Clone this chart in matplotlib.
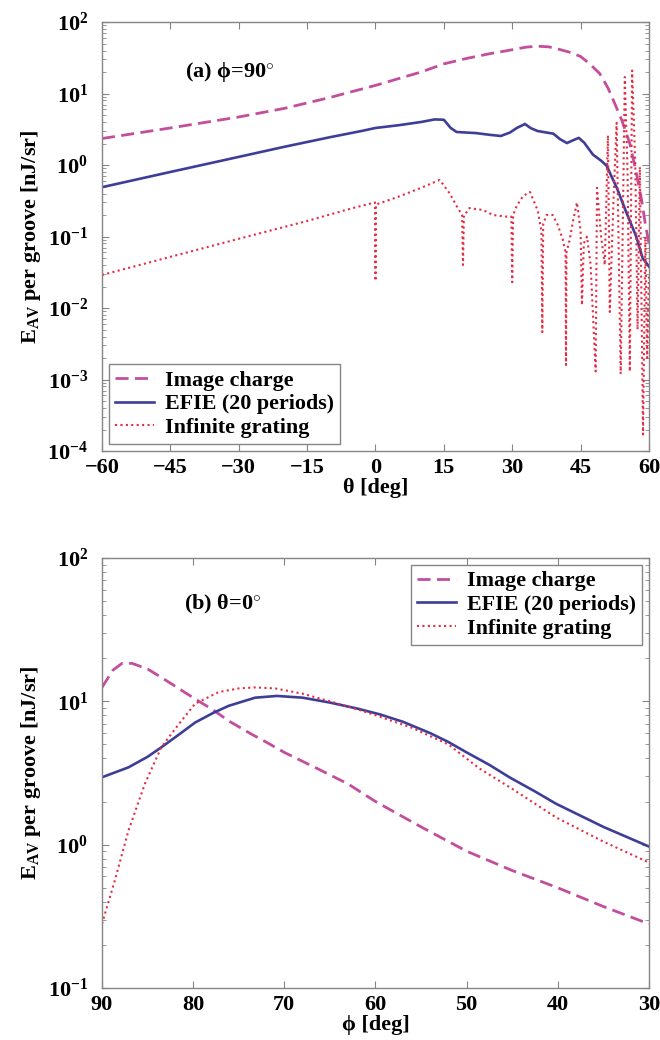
import matplotlib
matplotlib.use("Agg")
import matplotlib.pyplot as plt
from matplotlib.ticker import LogLocator, NullFormatter, FixedLocator


# panel (a): phi = 90 deg, sweep in theta
theta_ic = [-60, -45, -30, -20, -10, 0, 10, 15, 20, 25, 30, 33, 35.4, 38, 40, 42.5, 45,
            47, 49.2, 51, 52, 54, 55.8, 57.1, 58.4, 59.2, 60]
ic_a = [2.35, 3.3, 4.7, 6.2, 8.8, 13, 20, 26, 31, 36, 41, 44.5, 46, 45, 42, 38, 33,
        26, 19, 12, 8.6, 4.3, 2.0, 0.85, 0.32, 0.15, 0.08]

theta_ef = [-60, -45, -30, -20, -10, -3, 0, 5, 10, 13, 15, 16.5, 17.8, 22, 25, 27.5,
            29.5, 31, 32.8, 34, 35.5, 37.5, 39, 40.5, 42, 43.2, 44.6, 45.8, 47.7, 49.5,
            50.7, 53, 55, 57.2, 58.6, 60]
ef_a = [0.49, 0.8, 1.3, 1.8, 2.45, 3.0, 3.3, 3.6, 4.0, 4.35, 4.3, 3.3, 2.9, 2.8, 2.65,
        2.55, 2.85, 3.3, 3.75, 3.3, 3.0, 2.85, 2.75, 2.3, 2.03, 2.2, 2.4, 2.05, 1.4,
        1.15, 0.98, 0.47, 0.22, 0.1, 0.05, 0.038]

theta_ig = [-60, -45, -30, -15, -5, -0.1, 0, 0.1, 5, 10, 14.1, 16.3, 17.9, 19.0, 19.2,
            19.4, 20.0, 20.6, 23.6, 25.8, 28.7, 29.8, 30.0, 30.2, 31.0, 32.4, 33.9, 35.6,
            36.4, 36.6, 36.8, 37.5, 38.9, 40.0, 41.1, 41.7, 41.8, 41.9, 42.6, 43.3, 44.2,
            45.0, 45.3, 45.7, 46.4, 47.2, 48.3, 48.6, 49.5, 50.3, 51.0, 51.4, 52.2, 52.9,
            53.8, 54.7, 55.3, 55.8, 56.3, 57.0, 57.5, 58.0, 58.7, 59.2, 59.6, 60.0]
ig_a = [0.029, 0.052, 0.093, 0.165, 0.25, 0.30, 0.024, 0.28, 0.36, 0.48, 0.62, 0.4,
        0.26, 0.2, 0.04, 0.2, 0.22, 0.25, 0.235, 0.2, 0.19, 0.19, 0.023, 0.2, 0.27, 0.37,
        0.42, 0.23, 0.12, 0.0046, 0.15, 0.2, 0.2, 0.145, 0.09, 0.06, 0.0016, 0.06, 0.09,
        0.16, 0.30, 0.12, 0.011, 0.08, 0.1, 0.04, 0.0013, 0.48, 0.1, 0.04, 2.6, 0.0088,
        0.3, 3.9, 0.0012, 17, 0.8, 0.0013, 21, 1.0, 0.005, 0.94, 0.00017, 0.1, 0.002,
        0.03]

# panel (b): theta = 0 deg, sweep in phi
phi_ic = [90, 88.8, 87.8, 86.7, 85, 83.5, 79.8, 77.8, 76.1, 73.6, 72, 70, 66.4, 63, 60,
          55, 50, 45, 40, 35, 30]
ic_b = [12.5, 16.5, 18.4, 18.4, 16.8, 14.7, 10.4, 8.7, 7.3, 5.9, 5.2, 4.4, 3.4, 2.65,
        2.0, 1.33, 0.9, 0.66, 0.5, 0.37, 0.28]

phi_ef = [90, 87.1, 85, 83.5, 81.5, 79.8, 77.8, 76.1, 73.2, 70.8, 68, 65, 62, 59.5, 57,
          54, 52, 50, 47.5, 45.3, 42.5, 40.2, 35, 30]
ef_b = [2.95, 3.46, 4.1, 4.77, 5.9, 7.1, 8.3, 9.3, 10.6, 10.9, 10.6, 9.8, 8.9, 8.1, 7.2,
        6.0, 5.2, 4.4, 3.6, 2.95, 2.35, 1.93, 1.33, 0.97]

phi_ig = [90, 88.6, 87.1, 85.3, 83.5, 81.6, 79.8, 77.2, 75, 73.2, 71, 68, 65, 62, 60,
          55.9, 52, 48.6, 45, 40.2, 35, 30]
ig_b = [0.28, 0.56, 1.25, 2.65, 4.77, 6.9, 9.6, 11.6, 12.3, 12.5, 12.3, 11.3, 10.0, 8.8,
        8.0, 6.5, 5.0, 3.4, 2.45, 1.55, 1.05, 0.75]

labels = ["Image charge", "EFIE (20 periods)", "Infinite grating"]
theta_ticks = [-60, -45, -30, -15, 0, 15, 30, 45, 60]
phi_ticks = [90, 80, 70, 60, 50, 40, 30]

C_IC = "#C24E9C"
C_EF = "#3E3E98"
C_IG = "#E32D46"
EDGE = "#858585"

plt.rcParams["font.family"] = ["Liberation Serif", "DejaVu Serif"]
plt.rcParams["font.weight"] = "bold"
plt.rcParams["font.size"] = 16
plt.rcParams["mathtext.fontset"] = "custom"
plt.rcParams["mathtext.rm"] = "Liberation Serif:bold"
plt.rcParams["mathtext.bf"] = "Liberation Serif:bold"
plt.rcParams["mathtext.it"] = "Liberation Serif:bold:italic"
plt.rcParams["mathtext.default"] = "bf"
plt.rcParams["axes.unicode_minus"] = True


def style_axes(ax, ylo, yhi):
    ax.set_yscale("log")
    ax.set_ylim(ylo, yhi)
    ax.yaxis.set_major_locator(LogLocator(base=10, numticks=20))
    ax.yaxis.set_minor_locator(LogLocator(base=10, subs=range(2, 10), numticks=50))
    ax.yaxis.set_minor_formatter(NullFormatter())
    for s in ax.spines.values():
        s.set_color(EDGE)
        s.set_linewidth(1.0)
    ax.tick_params(which="both", direction="in", top=True, right=True, color=EDGE,
                   labelsize=16)
    ax.tick_params(which="major", length=5, width=0.8)
    ax.tick_params(which="minor", length=3, width=0.6)
    ax.tick_params(axis="y", pad=10)
    ax.tick_params(axis="x", pad=5)
    ax.set_ylabel(r"E$_{\mathdefault{AV}}$ per groove [nJ/sr]", fontsize=16,
                  fontweight="bold")
    ax.yaxis.set_label_coords(-0.108, 0.5)
    ax.xaxis.set_label_coords(0.5, -0.062)


def add_legend(ax, loc):
    leg = ax.legend(loc=loc, fontsize=15.8, handlelength=1.75, handletextpad=0.5,
                    labelspacing=0.15, borderaxespad=0.3, borderpad=0.3,
                    fancybox=False, framealpha=1, edgecolor=EDGE)
    leg.get_frame().set_linewidth(1.0)
    return leg


fig = plt.figure(figsize=(6.6, 10.4), dpi=100)
ax1 = fig.add_axes([0.1545, 0.5663, 0.8288, 0.4125])
ax2 = fig.add_axes([0.1545, 0.0500, 0.8288, 0.4135])

dash = (0, (4.7, 2.3))
dots = (0, (1, 1.6))

# (a)
ax1.plot(theta_ic, ic_a, color=C_IC, lw=2.0, ls=dash, label=labels[0])
ax1.plot(theta_ef, ef_a, color=C_EF, lw=1.9, ls="-", label=labels[1])
ax1.plot(theta_ig, ig_a, color=C_IG, lw=1.5, ls=dots, label=labels[2])
ax1.set_xlim(-60, 60)
ax1.xaxis.set_major_locator(FixedLocator(theta_ticks))
style_axes(ax1, 1e-4, 1e2)
ax1.set_xlabel("θ [deg]", fontsize=16, fontweight="bold")
ax1.text(0.152, 0.883, r"(a) ϕ=90$^{\circ}$", transform=ax1.transAxes,
         ha="left", va="center", fontsize=16, fontweight="bold")
add_legend(ax1, "lower left")

# (b)
ax2.plot(phi_ic, ic_b, color=C_IC, lw=2.0, ls=dash, label=labels[0])
ax2.plot(phi_ef, ef_b, color=C_EF, lw=1.9, ls="-", label=labels[1])
ax2.plot(phi_ig, ig_b, color=C_IG, lw=1.5, ls=dots, label=labels[2])
ax2.set_xlim(90, 30)
ax2.xaxis.set_major_locator(FixedLocator(phi_ticks))
style_axes(ax2, 1e-1, 1e2)
ax2.set_xlabel("ϕ [deg]", fontsize=16, fontweight="bold")
ax2.text(0.15, 0.891, r"(b) θ=0$^{\circ}$", transform=ax2.transAxes,
         ha="left", va="center", fontsize=16, fontweight="bold")
add_legend(ax2, "upper right")

fig.savefig("out.png", dpi=100)
